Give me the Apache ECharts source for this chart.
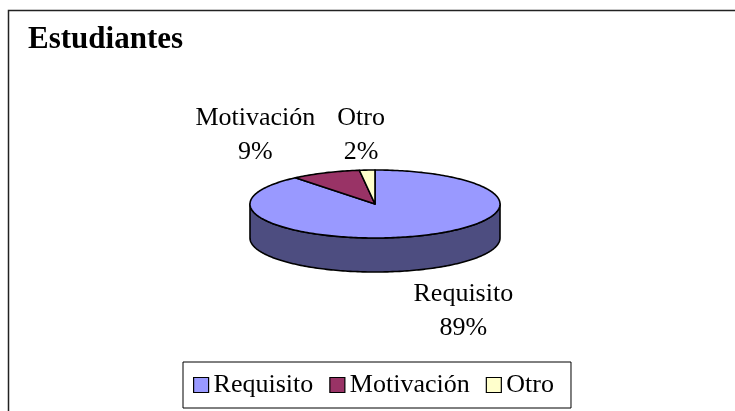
<!DOCTYPE html>
<html>
<head>
<meta charset="utf-8">
<script src="https://cdn.jsdelivr.net/npm/echarts@6/dist/echarts.min.js"></script>
<style>
  html, body { margin: 0; padding: 0; background: #fff; }
  #chart { width: 735px; height: 411px; }
</style>
</head>
<body>
<div id="chart"></div>
<script>
const categories = ['Requisito', 'Motivación', 'Otro'];
const values = [89, 9, 2];
const labels = ['89%', '9%', '2%'];

// styling, kept apart from the data
const topColors = ['#9999FF', '#993366', '#FFFFCC'];
const sideColors = ['#4D4D80', '#4D1A33', '#808066'];
const labelOffset = [[46, 41], [-70, -38], [-6, -35]];
const FONT = '"Liberation Serif", "Times New Roman", serif';

const pie = { cx: 375, cy: 204, rx: 125, ry: 34, depth: 34 };

const total = values.reduce((a, b) => a + b, 0);
const starts = [];
values.reduce((acc, v, i) => { starts[i] = acc; return acc + v; }, 0);

function pt(theta, dy) {
  return [pie.cx + pie.rx * Math.sin(theta), pie.cy - pie.ry * Math.cos(theta) + (dy || 0)];
}

function arc(a, b, dy) {
  const pts = [];
  const n = Math.max(2, Math.ceil((b - a) / 0.02));
  for (let k = 0; k <= n; k++) pts.push(pt(a + (b - a) * k / n, dy));
  return pts;
}

function makeRender(idx) {
  return function (params, api) {
    const s = api.value(0), v = api.value(1), t = api.value(2);
    const a = s / t * Math.PI * 2;
    const b = (s + v) / t * Math.PI * 2;
    const children = [];

    // visible side wall (front half of the ellipse)
    const lo = Math.max(a, Math.PI / 2), hi = Math.min(b, Math.PI * 1.5);
    if (hi > lo) {
      const top = arc(lo, hi, 0);
      const bottom = arc(lo, hi, pie.depth).reverse();
      children.push({
        type: 'polygon', z2: 1,
        shape: { points: top.concat(bottom) },
        style: { fill: sideColors[idx], stroke: '#000', lineWidth: 1.6, lineJoin: 'round' }
      });
    }

    // top face
    children.push({
      type: 'polygon', z2: 10,
      shape: { points: [[pie.cx, pie.cy]].concat(arc(a, b, 0)) },
      style: { fill: topColors[idx], stroke: '#000', lineWidth: 1.6, lineJoin: 'round' }
    });

    // label near the slice rim
    const mid = (a + b) / 2;
    const rim = pt(mid, Math.cos(mid) < 0 ? pie.depth : 0);
    children.push({
      type: 'text', z2: 20,
      x: rim[0] + labelOffset[idx][0],
      y: rim[1] + labelOffset[idx][1],
      style: {
        text: categories[idx] + '\n' + labels[idx],
        align: 'center', verticalAlign: 'middle',
        font: '26px ' + FONT, lineHeight: 34, fill: '#000'
      }
    });

    return { type: 'group', children };
  };
}

const chart = echarts.init(document.getElementById('chart'));

chart.setOption({
  backgroundColor: '#fff',
  animation: false,
  title: {
    text: 'Estudiantes',
    left: 23, top: 19,
    textStyle: { fontFamily: FONT, fontSize: 31, fontWeight: 'bold', color: '#000' }
  },
  legend: {
    left: 183, top: 362,
    icon: 'rect',
    itemWidth: 15, itemHeight: 15,
    itemGap: 16,
    padding: [10, 17, 10, 10],
    borderColor: '#000', borderWidth: 1,
    selectedMode: false,
    itemStyle: { borderColor: '#000', borderWidth: 1.2 },
    textStyle: { fontFamily: FONT, fontSize: 26, color: '#000' },
    data: categories
  },
  graphic: [{
    type: 'rect',
    shape: { x: 8.5, y: 10.5, width: 760, height: 420 },
    style: { fill: null, stroke: '#222', lineWidth: 1.5 },
    silent: true
  }],
  series: categories.map((name, i) => ({
    name,
    type: 'custom',
    coordinateSystem: 'none',
    color: topColors[i],
    renderItem: makeRender(i),
    data: [[starts[i], values[i], total]]
  }))
});
</script>
</body>
</html>
